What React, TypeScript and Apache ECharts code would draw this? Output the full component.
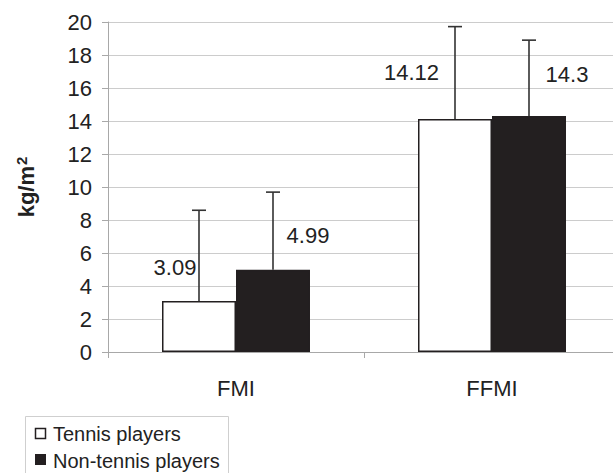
import React, { useEffect, useRef } from "react";
import * as echarts from "echarts";

const categories = ["FMI", "FFMI"];
const tennisMeans = [3.09, 14.12];
const tennisSD = [5.5, 5.6];
const nonTennisMeans = [4.99, 14.3];
const nonTennisSD = [4.7, 4.6];
const seriesNames = ["Tennis players", "Non-tennis players"];

const FONT = "Liberation Sans, Arial, sans-serif";
const BAR_W = 74;
const DARK = "#231f20";
const tennisLabelOffsets = [[-24, -22.5], [-43.5, -35.5]];
const nonTennisLabelOffsets = [[35, -23], [38, -30.5]];

function errorSeries(means: number[], sds: number[], dir: number) {
  return {
    type: "custom",
    z: 5,
    silent: true,
    encode: { x: 0, y: 1 },
    data: means.map((m, i) => [i, m, sds[i]]),
    renderItem: (params: any, api: any) => {
      const cat = api.value(0);
      const mean = api.value(1);
      const sd = api.value(2);
      const base = api.coord([cat, mean]);
      const top = api.coord([cat, mean + sd]);
      const x = base[0] + dir * (BAR_W / 2);
      const style = { stroke: "#333", lineWidth: 1.6 };
      return {
        type: "group",
        children: [
          { type: "line", shape: { x1: x, y1: base[1], x2: x, y2: top[1] }, style },
          { type: "line", shape: { x1: x - 7, y1: top[1], x2: x + 7, y2: top[1] }, style },
        ],
      };
    },
  };
}

export default function App() {
  const ref = useRef<HTMLDivElement>(null);
  useEffect(() => {
    const chart = echarts.init(ref.current!, null, { renderer: "svg" });
    const labelStyle = { fontFamily: FONT, fontSize: 22, color: "#222" };
    const legendText = { fontFamily: FONT, fontSize: 20, fill: "#222" };
    chart.setOption({
      animation: false,
      backgroundColor: "#fff",
      grid: { left: 108, right: 0, top: 22, bottom: 121, containLabel: false },
      graphic: [
        {
          type: "rect",
          shape: { x: 25.5, y: 416.5, width: 203, height: 80 },
          style: { fill: "none", stroke: "#cfcfcf", lineWidth: 1 },
        },
        {
          type: "rect",
          shape: { x: 35.5, y: 428.5, width: 10, height: 10 },
          style: { fill: "#fff", stroke: DARK, lineWidth: 1.5 },
        },
        {
          type: "rect",
          shape: { x: 35, y: 454, width: 11, height: 11 },
          style: { fill: DARK, stroke: DARK, lineWidth: 0 },
        },
        {
          type: "text",
          x: 53,
          y: 434,
          style: { text: seriesNames[0], ...legendText, verticalAlign: "middle", align: "left" },
        },
        {
          type: "text",
          x: 53,
          y: 461,
          style: { text: seriesNames[1], ...legendText, verticalAlign: "middle", align: "left" },
        },
      ],
      xAxis: {
        type: "category",
        data: categories,
        axisLine: { lineStyle: { color: "#a8a8a8", width: 1 } },
        axisTick: { show: true, length: 6, lineStyle: { color: "#a8a8a8" } },
        axisLabel: { fontFamily: FONT, fontSize: 22, color: "#222", margin: 25 },
      },
      yAxis: {
        type: "value",
        min: 0,
        max: 20,
        interval: 2,
        name: "{a|kg/m}{s|2}",
        nameLocation: "middle",
        nameGap: 70,
        nameTextStyle: {
          rich: {
            a: { fontFamily: FONT, fontSize: 22, fontWeight: "bold", color: "#222" },
            s: {
              fontFamily: FONT,
              fontSize: 15,
              fontWeight: "bold",
              color: "#222",
              verticalAlign: "top",
              padding: [0, 0, 9, 1],
            },
          },
        },
        axisLine: { show: true, lineStyle: { color: "#a8a8a8", width: 1 } },
        axisTick: { show: true, length: 6, lineStyle: { color: "#a8a8a8" } },
        splitLine: { lineStyle: { color: "#cccccc", width: 1 } },
        axisLabel: { fontFamily: FONT, fontSize: 22, color: "#222", margin: 16 },
      },
      series: [
        {
          name: seriesNames[0],
          type: "bar",
          barWidth: BAR_W,
          barGap: "0%",
          itemStyle: { color: "#ffffff", borderColor: DARK, borderWidth: 1.5 },
          data: tennisMeans.map((v, i) => ({
            value: v,
            label: { offset: tennisLabelOffsets[i] },
          })),
          label: { show: true, position: "top", distance: 0, ...labelStyle },
        },
        {
          name: seriesNames[1],
          type: "bar",
          barWidth: BAR_W,
          barGap: "0%",
          itemStyle: { color: DARK, borderColor: DARK, borderWidth: 1.5 },
          data: nonTennisMeans.map((v, i) => ({
            value: v,
            label: { offset: nonTennisLabelOffsets[i] },
          })),
          label: { show: true, position: "top", distance: 0, ...labelStyle },
        },
        errorSeries(tennisMeans, tennisSD, -1),
        errorSeries(nonTennisMeans, nonTennisSD, 1),
      ],
    });
    return () => chart.dispose();
  }, []);
  return (
    <div
      ref={ref}
      style={{ position: "fixed", left: 0, top: 0, width: 620, height: 473 }}
    />
  );
}
